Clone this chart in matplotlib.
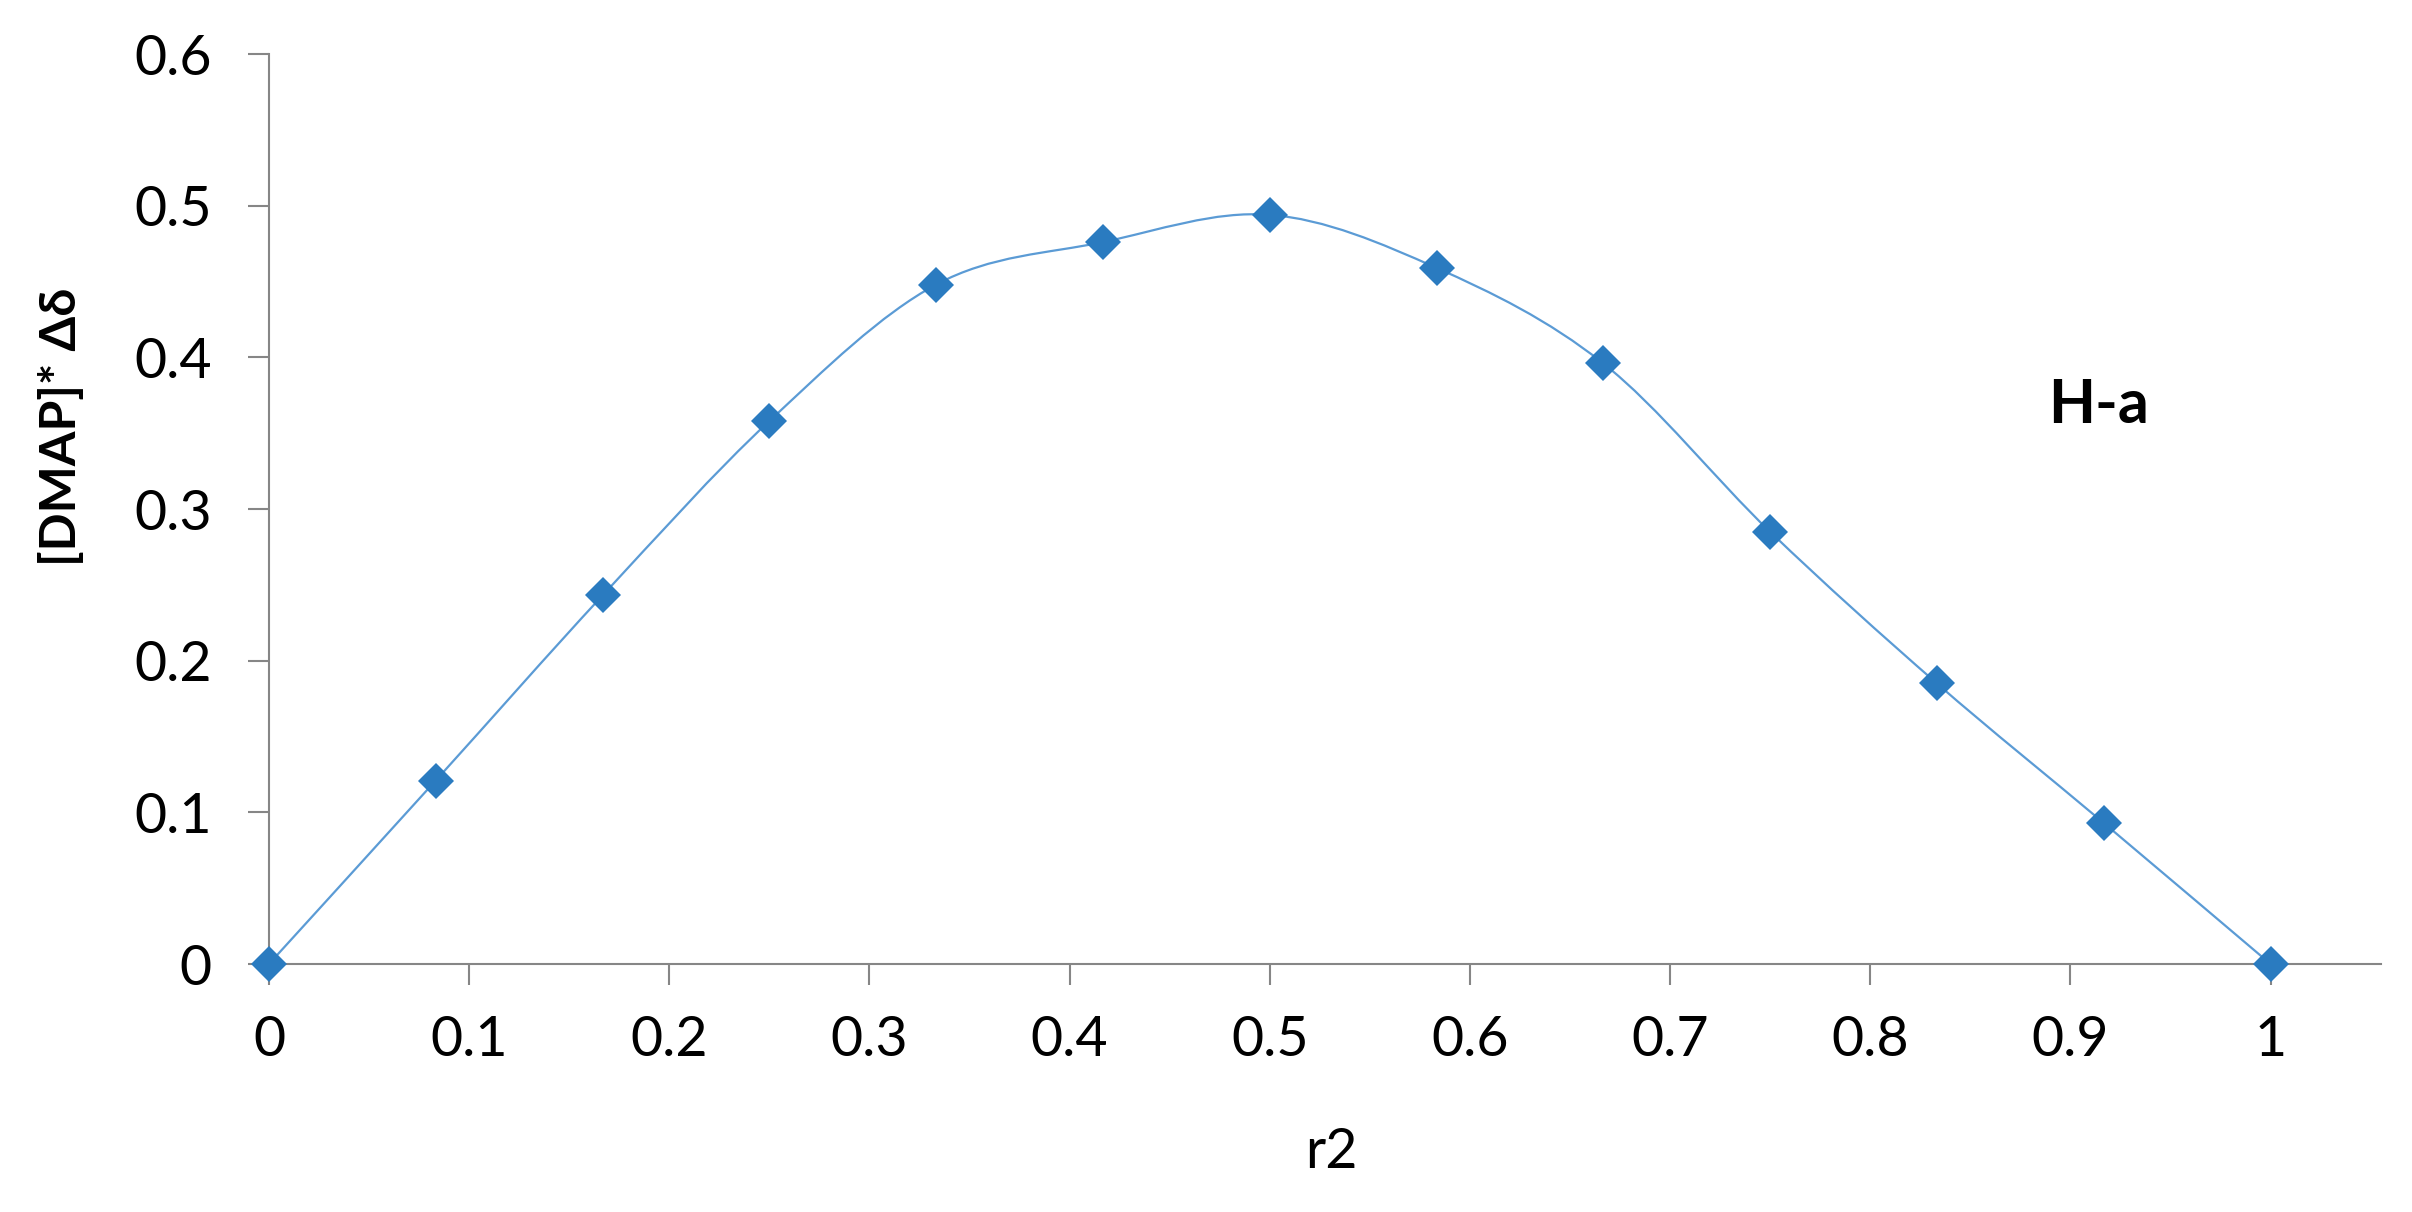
import numpy as np
import matplotlib
matplotlib.use("Agg")
import matplotlib.pyplot as plt
from matplotlib.path import Path
from matplotlib.patches import PathPatch

# data
r2 = [0, 1/12, 2/12, 3/12, 4/12, 5/12, 6/12, 7/12, 8/12, 9/12, 10/12, 11/12, 1]
dmap_dd = [0, 0.121, 0.243, 0.358, 0.448, 0.476, 0.494, 0.459, 0.396, 0.285, 0.185, 0.093, 0]
x_ticks = [0, 0.1, 0.2, 0.3, 0.4, 0.5, 0.6, 0.7, 0.8, 0.9, 1]
x_tick_labels = ["0", "0.1", "0.2", "0.3", "0.4", "0.5", "0.6", "0.7", "0.8", "0.9", "1"]
y_ticks = [0, 0.1, 0.2, 0.3, 0.4, 0.5, 0.6]
y_tick_labels = ["0", "0.1", "0.2", "0.3", "0.4", "0.5", "0.6"]

plt.rcParams['font.family'] = ['Lato', 'DejaVu Sans']

LINE_COLOR = '#5B9BD5'
MARKER_COLOR = '#2A7BC0'
AXIS_COLOR = '#868686'


def smooth_path(xs, ys):
    """Excel-like smoothed line: cubic Bezier segments through the points."""
    pts = np.column_stack([xs, ys])
    n = len(pts)
    verts = [pts[0]]
    codes = [Path.MOVETO]
    for i in range(n - 1):
        p0 = pts[i - 1] if i > 0 else pts[i]
        p1 = pts[i]
        p2 = pts[i + 1]
        p3 = pts[i + 2] if i + 2 < n else pts[i + 1]
        c1 = p1 + (p2 - p0) / 6.0
        c2 = p2 - (p3 - p1) / 6.0
        verts += [c1, c2, p2]
        codes += [Path.CURVE4] * 3
    return Path(verts, codes)


fig = plt.figure(figsize=(24.12, 12.12), dpi=100)
ax = fig.add_axes([0.1115, 0.2046, 0.8755, 0.7508])

ax.add_patch(PathPatch(smooth_path(r2, dmap_dd), facecolor='none',
                       edgecolor=LINE_COLOR, lw=1.6, zorder=2))
ax.plot(r2, dmap_dd, linestyle='none', marker='D', ms=18, mew=0,
        color=MARKER_COLOR, zorder=3, clip_on=False)

ax.set_xlim(0, 1.055)
ax.set_ylim(0, 0.6)
ax.set_xticks(x_ticks)
ax.set_xticklabels(x_tick_labels)
ax.set_yticks(y_ticks)
ax.set_yticklabels(y_tick_labels)

for side in ['top', 'right']:
    ax.spines[side].set_visible(False)
for side in ['left', 'bottom']:
    ax.spines[side].set_color(AXIS_COLOR)
    ax.spines[side].set_linewidth(1.5)

ax.tick_params(axis='both', colors=AXIS_COLOR, width=1.5, length=15,
               labelsize=40, labelcolor='black')
ax.tick_params(axis='x', pad=22)
ax.tick_params(axis='y', pad=26)

ax.set_xlabel('r2', fontsize=40)
ax.xaxis.set_label_coords(0.503, -0.207)
ax.xaxis.label.set_va('center')
ax.set_ylabel('[DMAP]* Δδ', fontsize=36, fontweight='bold')
ax.yaxis.set_label_coords(-0.0985, 0.59)
ax.yaxis.label.set_va('center')

ax.text(0.914, 0.3686, 'H-a', fontsize=44, fontweight='bold',
        ha='center', va='center')

fig.savefig('out.png', dpi=100, facecolor='white')
